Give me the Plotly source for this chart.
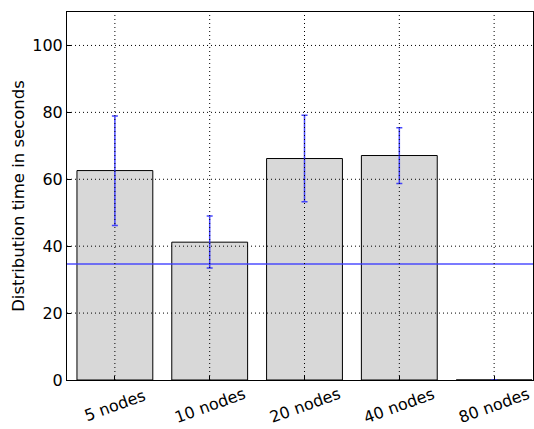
import plotly.graph_objects as go

categories = ["5 nodes", "10 nodes", "20 nodes", "40 nodes", "80 nodes"]
means = [62.6, 41.2, 66.2, 67.1, 0.0]
err_upper = [78.9, 49.0, 79.1, 75.4, 0.0]
err_lower = [46.2, 33.5, 53.3, 58.7, 0.0]
reference_line = 34.7
y_ticks = [0, 20, 40, 60, 80, 100]

plus = [u - m for u, m in zip(err_upper, means)]
minus = [m - l for m, l in zip(means, err_lower)]
xpos = list(range(len(categories)))

fig = go.Figure()
fig.add_trace(go.Bar(
    x=xpos,
    y=means,
    width=0.8,
    marker=dict(color="#d8d8d8", line=dict(color="black", width=1)),
    error_y=dict(type="data", symmetric=False, array=plus, arrayminus=minus,
                 color="rgba(40,40,255,0.85)", thickness=1.5, width=3),
    showlegend=False,
))
fig.add_shape(type="line", xref="paper", x0=0, x1=1, yref="y",
              y0=reference_line, y1=reference_line,
              line=dict(color="rgba(60,60,255,0.9)", width=1.5))

# dotted grid drawn above the bars, as in the reference
grid_line = dict(color="black", width=1, dash="1px,3px")
for xi in xpos:
    fig.add_shape(type="line", xref="x", x0=xi, x1=xi, yref="paper", y0=0, y1=1,
                  line=grid_line, layer="above")
for yt in y_ticks[1:]:
    fig.add_shape(type="line", xref="paper", x0=0, x1=1, yref="y", y0=yt, y1=yt,
                  line=grid_line, layer="above")

for xi, label in zip(xpos, categories):
    fig.add_annotation(x=xi, xref="x", y=0, yref="paper", text=label,
                       showarrow=False, textangle=-20,
                       xanchor="center", yanchor="middle", yshift=-25,
                       font=dict(size=16, family="DejaVu Sans", color="black"))

fig.update_layout(
    width=534, height=429,
    margin=dict(l=67, r=1, t=12, b=49),
    plot_bgcolor="white", paper_bgcolor="white",
    font=dict(family="DejaVu Sans", size=15, color="black"),
    bargap=0.2,
)
fig.update_xaxes(
    range=[-0.505, 4.41],
    automargin=False,
    tickmode="array", tickvals=xpos, showticklabels=False,
    showgrid=False,
    showline=True, linecolor="black", linewidth=1, mirror=True,
    ticks="inside", ticklen=4, tickcolor="black",
    zeroline=False, layer="above traces",
)
fig.update_yaxes(
    range=[0, 110],
    automargin=False,
    tickmode="array", tickvals=y_ticks, tickfont=dict(size=16),
    title=dict(text="Distribution time in seconds", standoff=3, font=dict(size=16.5)),
    showgrid=False,
    showline=True, linecolor="black", linewidth=1, mirror=True,
    ticks="inside", ticklen=4, tickcolor="black",
    zeroline=False, layer="above traces",
)
fig.write_html(
    "out.html",
    config={"displayModeBar": False},
    post_script="document.body.style.margin='0';document.body.style.padding='0';",
)
